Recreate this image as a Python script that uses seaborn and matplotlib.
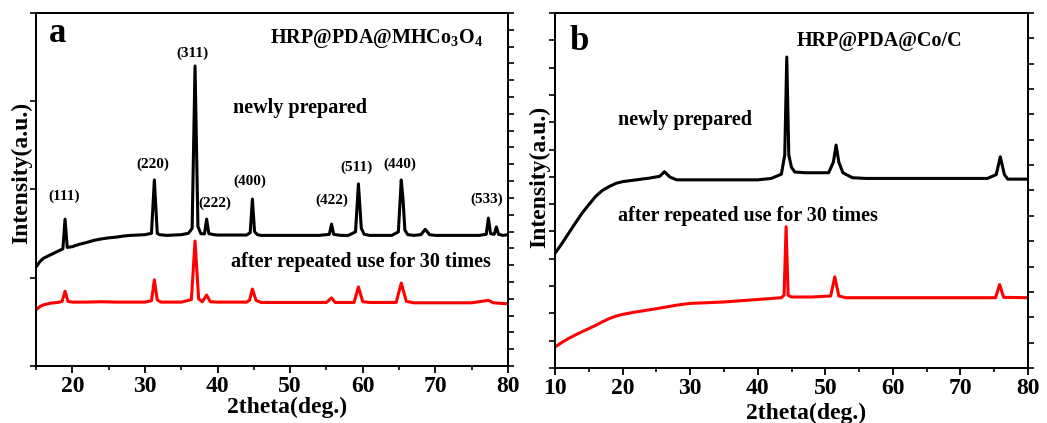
import numpy as np
import pandas as pd
import matplotlib
matplotlib.use("Agg")
import matplotlib.pyplot as plt
from matplotlib.ticker import MultipleLocator, FixedLocator, NullFormatter
import seaborn as sns

# ---------------- data (arbitrary intensity units) ----------------
# Panel a: HRP@PDA@MHCo3O4
a_new_x = [15, 15.5, 16, 17, 18, 18.7, 19.0, 19.3, 20, 21, 22, 23, 24, 25, 26, 27, 28, 29, 30,
           30.9, 31.3, 31.7, 32, 33, 34, 35, 36, 36.5, 36.9, 37.3, 37.7, 38.2, 38.5, 38.8, 39.5,
           40, 41, 42, 43, 44, 44.5, 44.8, 45.1, 45.5, 46, 48, 50, 52, 54, 55.4, 55.7, 56.0, 57,
           58, 59.0, 59.4, 59.8, 60.2, 61, 62, 63, 64, 64.9, 65.3, 65.55, 65.8, 66.2, 67, 68,
           68.6, 69.2, 70, 72, 74, 76, 77.0, 77.3, 77.6, 78.1, 78.4, 78.7, 79.3, 80]
a_new_y = [28.0, 29.5, 30.5, 31.5, 32.5, 33.2, 41.6, 33.6, 33.8, 34.5, 35.0, 35.6, 36.0, 36.3, 36.5,
           36.8, 37.0, 37.1, 37.2, 37.6, 52.7, 37.6, 37.2, 37.0, 37.1, 37.2, 37.6, 39.0, 85.0,
           39.5, 37.5, 37.4, 41.6, 37.5, 37.2, 37.1, 37.1, 37.1, 37.1, 37.1, 37.8, 47.3, 38.0,
           37.2, 37.0, 37.0, 37.0, 37.0, 37.0, 37.3, 40.2, 37.3, 37.0, 37.0, 38.0, 51.6, 39.0,
           37.3, 37.0, 37.0, 37.0, 37.0, 38.0, 52.7, 47.0, 38.5, 37.2, 37.0, 37.2, 38.7, 37.2,
           37.0, 37.0, 37.0, 37.0, 37.3, 41.9, 37.5, 37.3, 39.4, 37.3, 37.0, 37.2]

a_used_x = [15, 15.5, 16, 17, 18, 18.6, 19.0, 19.4, 20, 22, 24, 26, 28, 30, 30.9, 31.3, 31.7, 32.2,
            33, 35, 36.4, 36.9, 37.4, 37.9, 38.5, 39.0, 40, 42, 44, 44.4, 44.8, 45.3, 46, 50, 55,
            55.7, 56.2, 57, 58.8, 59.4, 60.0, 61, 64.6, 65.3, 66.0, 67, 70, 75, 77.3, 78, 80]
a_used_y = [15.9, 16.8, 17.3, 17.8, 18.0, 18.3, 21.2, 18.3, 18.1, 18.1, 18.2, 18.1, 18.1, 18.1,
            18.5, 24.4, 18.7, 18.1, 18.1, 18.1, 18.8, 35.4, 19.0, 18.2, 20.1, 18.2, 18.1, 18.1,
            18.1, 18.6, 21.8, 18.6, 18.0, 18.0, 18.0, 19.3, 18.0, 18.0, 18.0, 22.4, 18.2, 18.0,
            18.0, 23.5, 18.3, 17.9, 17.9, 17.9, 18.6, 17.9, 17.6]

a_hkl = ["(111)", "(220)", "(311)", "(222)", "(400)", "(422)", "(511)", "(440)", "(533)"]
a_hkl_x = [18.9, 31.1, 36.6, 39.6, 44.4, 55.7, 59.2, 65.1, 77.1]
a_hkl_y = [48.2, 57.2, 88.7, 46.2, 52.4, 47.0, 56.4, 57.2, 47.3]

# Panel b: HRP@PDA@Co/C
b_new_x = [10, 11, 12, 13, 14, 15, 16, 17, 18, 19, 20, 22, 24, 25.5, 26.2, 27, 28, 30, 32, 36,
           40, 42, 43.5, 44.0, 44.3, 44.6, 45.0, 45.5, 47, 49, 50.5, 51.2, 51.6, 52.0, 52.6, 54,
           56, 60, 65, 70, 74, 75.3, 75.9, 76.5, 77, 80]
b_new_y = [32.3, 35.0, 37.9, 40.8, 43.6, 46.0, 48.3, 50.0, 51.1, 52.0, 52.5, 53.0, 53.5, 54.0,
           55.3, 53.8, 53.0, 53.0, 53.0, 53.0, 53.0, 53.4, 54.6, 60.0, 87.6, 60.0, 56.5, 55.2,
           55.0, 55.0, 55.0, 58.0, 62.8, 58.0, 55.0, 53.6, 53.4, 53.4, 53.4, 53.4, 53.4, 54.5,
           59.5, 54.5, 53.2, 53.2]

b_used_x = [10, 11, 12, 13, 14, 15, 16, 17, 18, 19, 20, 22, 25, 28, 30, 35, 40, 43.5, 43.9, 44.2,
            44.5, 45, 48, 50.8, 51.4, 52, 53, 60, 70, 75.2, 75.8, 76.4, 80]
b_used_y = [5.9, 7.2, 8.3, 9.3, 10.2, 11.1, 12.0, 13.0, 13.9, 14.6, 15.1, 15.8, 16.7, 17.7, 18.2,
            18.6, 19.3, 19.8, 20.5, 39.8, 20.5, 20.0, 20.0, 20.3, 25.7, 20.3, 19.8, 19.8, 19.8,
            19.8, 23.5, 19.9, 19.8]

label_new = "newly prepared"
label_used = "after repeated use for 30 times"
title_a = r"HRP@PDA@MHCo$_\mathbf{3}$O$_\mathbf{4}$"
title_b = "HRP@PDA@Co/C"
x_label = "2theta(deg.)"
y_label = "Intensity(a.u.)"

# ---------------- styling ----------------
sns.set_theme(style="ticks")
plt.rcParams["font.family"] = ["Liberation Serif", "DejaVu Serif"]
plt.rcParams["font.weight"] = "bold"
plt.rcParams["mathtext.fontset"] = "custom"
plt.rcParams["mathtext.rm"] = "Liberation Serif:bold"
plt.rcParams["mathtext.bf"] = "Liberation Serif:bold"
for k in ["text.color", "axes.labelcolor", "xtick.color", "ytick.color", "axes.edgecolor"]:
    plt.rcParams[k] = "black"

W, H = 1047, 423
fig = plt.figure(figsize=(W / 100, H / 100), dpi=100)
ax_a = fig.add_axes([36 / W, (H - 366) / H, 472 / W, 353 / H])
ax_b = fig.add_axes([555 / W, (H - 368) / H, 473 / W, 355 / H])

def series_df(x, y):
    return pd.DataFrame({"x": x, "y": y})

for ax, (nx, ny), (ux, uy), xlim in [
    (ax_a, (a_new_x, a_new_y), (a_used_x, a_used_y), (15, 80)),
    (ax_b, (b_new_x, b_new_y), (b_used_x, b_used_y), (10, 80)),
]:
    sns.lineplot(data=series_df(nx, ny), x="x", y="y", ax=ax, color="black",
                 linewidth=2.2, estimator=None, sort=False)
    sns.lineplot(data=series_df(ux, uy), x="x", y="y", ax=ax, color="#ff0000",
                 linewidth=2.2, estimator=None, sort=False)
    ax.set_xlim(*xlim)
    ax.set_ylim(0, 100)
    for s in ax.spines.values():
        s.set_visible(True)
        s.set_linewidth(1.4)
        s.set_color("black")
    ax.xaxis.set_major_locator(MultipleLocator(10))
    ax.xaxis.set_minor_locator(MultipleLocator(5))
    ax.tick_params(axis="x", which="major", direction="out", length=5, width=1.3,
                   labelsize=17, pad=2, colors="black")
    ax.tick_params(axis="x", which="minor", direction="out", length=3, width=1.2)
    for lab in ax.get_xticklabels():
        lab.set_fontweight("bold")
    ax.set_xlabel(x_label, fontsize=17, fontweight="bold")
    ax.set_ylabel(y_label, fontsize=17, fontweight="bold")
    ax.xaxis.label.set_va("center")
    ax.yaxis.label.set_va("center")

# y ticks: left spine and separate right-side ticks, no labels
ax_a.yaxis.set_major_locator(FixedLocator(np.arange(0, 100.1, 25)))
ax_a.yaxis.set_major_formatter(NullFormatter())
ax_a.tick_params(axis="y", which="major", direction="out", length=4, width=1.2, left=True)
ra = ax_a.twinx()
ra.set_ylim(0, 100)
ra.yaxis.set_major_locator(FixedLocator(np.arange(0, 100.1, 100 / 21)))
ra.yaxis.set_major_formatter(NullFormatter())
ra.tick_params(axis="y", direction="out", length=4, width=1.2)

ax_b.yaxis.set_major_locator(FixedLocator(np.arange(0, 100.1, 100 / 13)))
ax_b.yaxis.set_major_formatter(NullFormatter())
ax_b.tick_params(axis="y", which="major", direction="out", length=4, width=1.2, left=True)
rb = ax_b.twinx()
rb.set_ylim(0, 100)
rb.yaxis.set_major_locator(FixedLocator(np.arange(0, 100.1, 100 / 14)))
rb.yaxis.set_major_formatter(NullFormatter())
rb.tick_params(axis="y", direction="out", length=4, width=1.2)
for r in (ra, rb):
    for s in r.spines.values():
        s.set_linewidth(1.4)
        s.set_color("black")

ax_a.xaxis.set_label_coords(0.532, -0.118)
ax_a.yaxis.set_label_coords(-0.030, 0.547)
ax_b.xaxis.set_label_coords(0.531, -0.128)
ax_b.yaxis.set_label_coords(-0.032, 0.538)

# ---------------- text ----------------
ax_a.text(16.8, 94.3, "a", fontsize=25, fontweight="bold", va="center", ha="left")
ax_a.text(47.2, 92.9, title_a, fontsize=14.5, fontweight="bold", va="center", ha="left")
ax_a.text(42.1, 73.1, label_new, fontsize=14.5, fontweight="bold", va="center", ha="left")
ax_a.text(41.8, 29.5, label_used, fontsize=14.5, fontweight="bold", va="center", ha="left")
for t, x, y in zip(a_hkl, a_hkl_x, a_hkl_y):
    ax_a.text(x, y, t, fontsize=11, fontweight="bold", va="center", ha="center")

ax_b.text(12.2, 92.0, "b", fontsize=25, fontweight="bold", va="center", ha="left")
ax_b.text(45.8, 92.0, title_b, fontsize=14.5, fontweight="bold", va="center", ha="left")
ax_b.text(19.3, 69.9, label_new, fontsize=14.5, fontweight="bold", va="center", ha="left")
ax_b.text(19.3, 42.8, label_used, fontsize=14.5, fontweight="bold", va="center", ha="left")

fig.savefig("out.png", dpi=100)
